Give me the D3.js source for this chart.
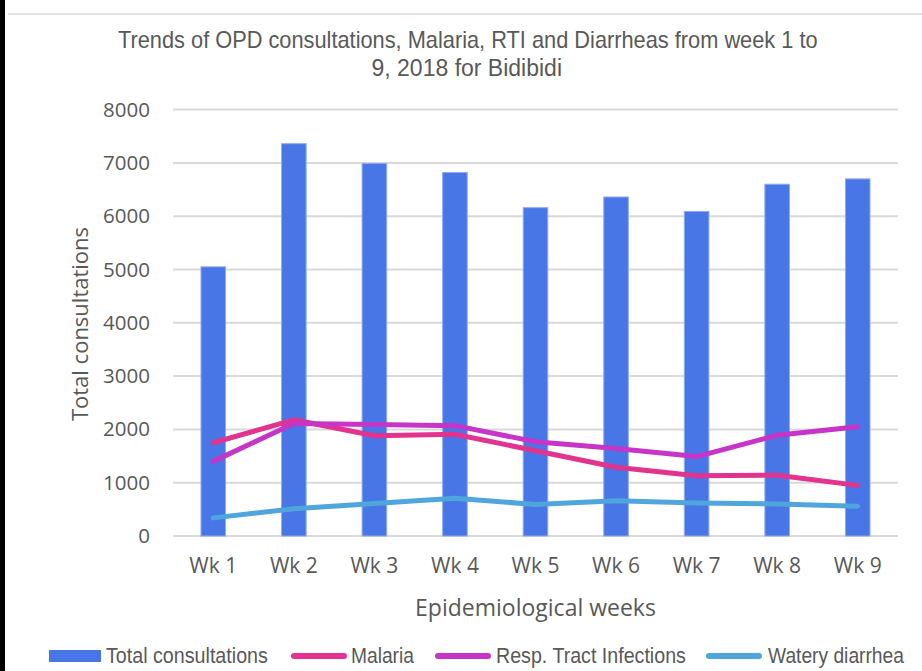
<!DOCTYPE html>
<html><head><meta charset="utf-8">
<script src="https://cdn.jsdelivr.net/npm/d3@7"></script>
<style>
html,body{margin:0;padding:0;background:#fff;}
svg{display:block;}
</style></head>
<body>
<svg id="chart" width="922" height="671"></svg>
<script>
const weeks = ["Wk 1","Wk 2","Wk 3","Wk 4","Wk 5","Wk 6","Wk 7","Wk 8","Wk 9"];
const totalConsultations = [5050, 7360, 6990, 6820, 6160, 6360, 6090, 6600, 6700];
const malaria = [1750, 2180, 1880, 1910, 1600, 1290, 1130, 1140, 950];
const respTract = [1400, 2110, 2090, 2070, 1770, 1640, 1490, 1890, 2050];
const wateryDiarrhea = [340, 510, 610, 710, 590, 660, 620, 600, 560];
const yTicks = [0, 1000, 2000, 3000, 4000, 5000, 6000, 7000, 8000];
const titleLines = ["Trends of OPD consultations, Malaria, RTI and Diarrheas from week 1 to", "9, 2018 for Bidibidi"];

const svg = d3.select("#chart");
const W = 922, H = 671;
const m = {left:173, right:898, top:109.6, bottom:536};
const textCol = "#595959";
const colors = {bar:"#4876e6", barEdge:"#8eaaf2", malaria:"#e2338e", rti:"#c634c8", water:"#4ea6dc"};
const narrow = "'Liberation Sans Narrow', 'Arial Narrow', 'Liberation Sans', Arial, sans-serif";

// condensed text helper: scales glyphs horizontally to fit a target width
function condensedText(parent, str, xPos, yPos, size, targetW, anchor) {
  const t = parent.append("text").attr("font-family", narrow).attr("font-size", size + "px")
    .attr("fill", textCol).attr("x", 0).attr("y", 0).text(str);
  const nat = t.node().getComputedTextLength();
  const sx = Math.min(1, targetW / nat);
  const left = anchor === "middle" ? xPos - targetW / 2 : xPos;
  t.attr("transform", `translate(${left},${yPos}) scale(${sx},1)`);
  return t;
}

// frame
svg.append("rect").attr("x",0).attr("y",0).attr("width",5).attr("height",H).attr("fill","#000");
svg.append("line").attr("x1",8).attr("x2",W).attr("y1",14).attr("y2",14).attr("stroke","#d9d9d9").attr("stroke-width",1.5);

const x = d3.scaleBand().domain(weeks).range([m.left, m.right]).paddingInner(0.695).paddingOuter(0.3475);
const y = d3.scaleLinear().domain([0, 8000]).range([m.bottom, m.top]);
const cx = d => x(d) + x.bandwidth()/2;

// gridlines
svg.append("g").selectAll("line").data(yTicks).join("line")
  .attr("x1", m.left).attr("x2", m.right)
  .attr("y1", d=>y(d)).attr("y2", d=>y(d))
  .attr("stroke","#d9d9d9").attr("stroke-width",2);

// y axis labels
const yAxis = svg.append("g").attr("transform",`translate(${m.left},0)`)
  .call(d3.axisLeft(y).tickValues(yTicks).tickSize(0).tickPadding(23).tickFormat(d3.format("d")));
yAxis.select(".domain").remove();
yAxis.selectAll("text").attr("font-family","'Open Sans', sans-serif").attr("font-size","20.5px").attr("fill",textCol);

// bars
svg.append("g").selectAll("rect").data(weeks).join("rect")
  .attr("x", d=>x(d)).attr("width", x.bandwidth())
  .attr("y", (d,i)=>y(totalConsultations[i]))
  .attr("height", (d,i)=>y(0)-y(totalConsultations[i]))
  .attr("fill", colors.bar).attr("stroke", colors.barEdge).attr("stroke-width",1);

// x axis
const xAxis = svg.append("g").attr("transform",`translate(0,${m.bottom})`)
  .call(d3.axisBottom(x).tickSize(0).tickPadding(22));
xAxis.select(".domain").remove();
xAxis.selectAll("text").attr("font-family","'Open Sans', sans-serif").attr("font-size","21px").attr("fill",textCol);

// lines
const line = d3.line().x((d,i)=>cx(weeks[i])).y(d=>y(d));
[[malaria, colors.malaria],[respTract, colors.rti],[wateryDiarrhea, colors.water]].forEach(([arr,c])=>{
  svg.append("path").datum(arr).attr("d", line).attr("fill","none")
    .attr("stroke", c).attr("stroke-width",5).attr("stroke-linecap","round").attr("stroke-linejoin","round");
});

// title
condensedText(svg, titleLines[0], 468, 48, 23, 700, "middle");
condensedText(svg, titleLines[1], 468, 76, 23, 193, "middle");

// axis titles
svg.append("text").attr("transform","translate(88,324) rotate(-90)").attr("text-anchor","middle")
  .attr("font-family","'Open Sans', sans-serif").attr("font-size","22px").attr("fill",textCol)
  .text("Total consultations");
svg.append("text").attr("x",(m.left+m.right)/2).attr("y",616).attr("text-anchor","middle")
  .attr("font-family","'Open Sans', sans-serif").attr("font-size","23px").attr("fill",textCol)
  .text("Epidemiological weeks");

// legend
const legend = [
  {name:"Total consultations", type:"rect", c:colors.bar, sx:49, tx:106, tw:162},
  {name:"Malaria", type:"line", c:colors.malaria, sx:291, tx:351, tw:63},
  {name:"Resp. Tract Infections", type:"line", c:colors.rti, sx:435, tx:496, tw:190},
  {name:"Watery diarrhea", type:"line", c:colors.water, sx:706, tx:768, tw:136}
];
const legY = 656;
const lg = svg.append("g");
legend.forEach(l=>{
  if(l.type==="rect"){
    lg.append("rect").attr("x",l.sx).attr("y",legY-6).attr("width",52).attr("height",12).attr("fill",l.c);
  } else {
    lg.append("line").attr("x1",l.sx+3).attr("x2",l.sx+53).attr("y1",legY).attr("y2",legY)
      .attr("stroke",l.c).attr("stroke-width",6).attr("stroke-linecap","round");
  }
  condensedText(lg, l.name, l.tx, legY+7, 22, l.tw, "start");
});
</script>
</body></html>
